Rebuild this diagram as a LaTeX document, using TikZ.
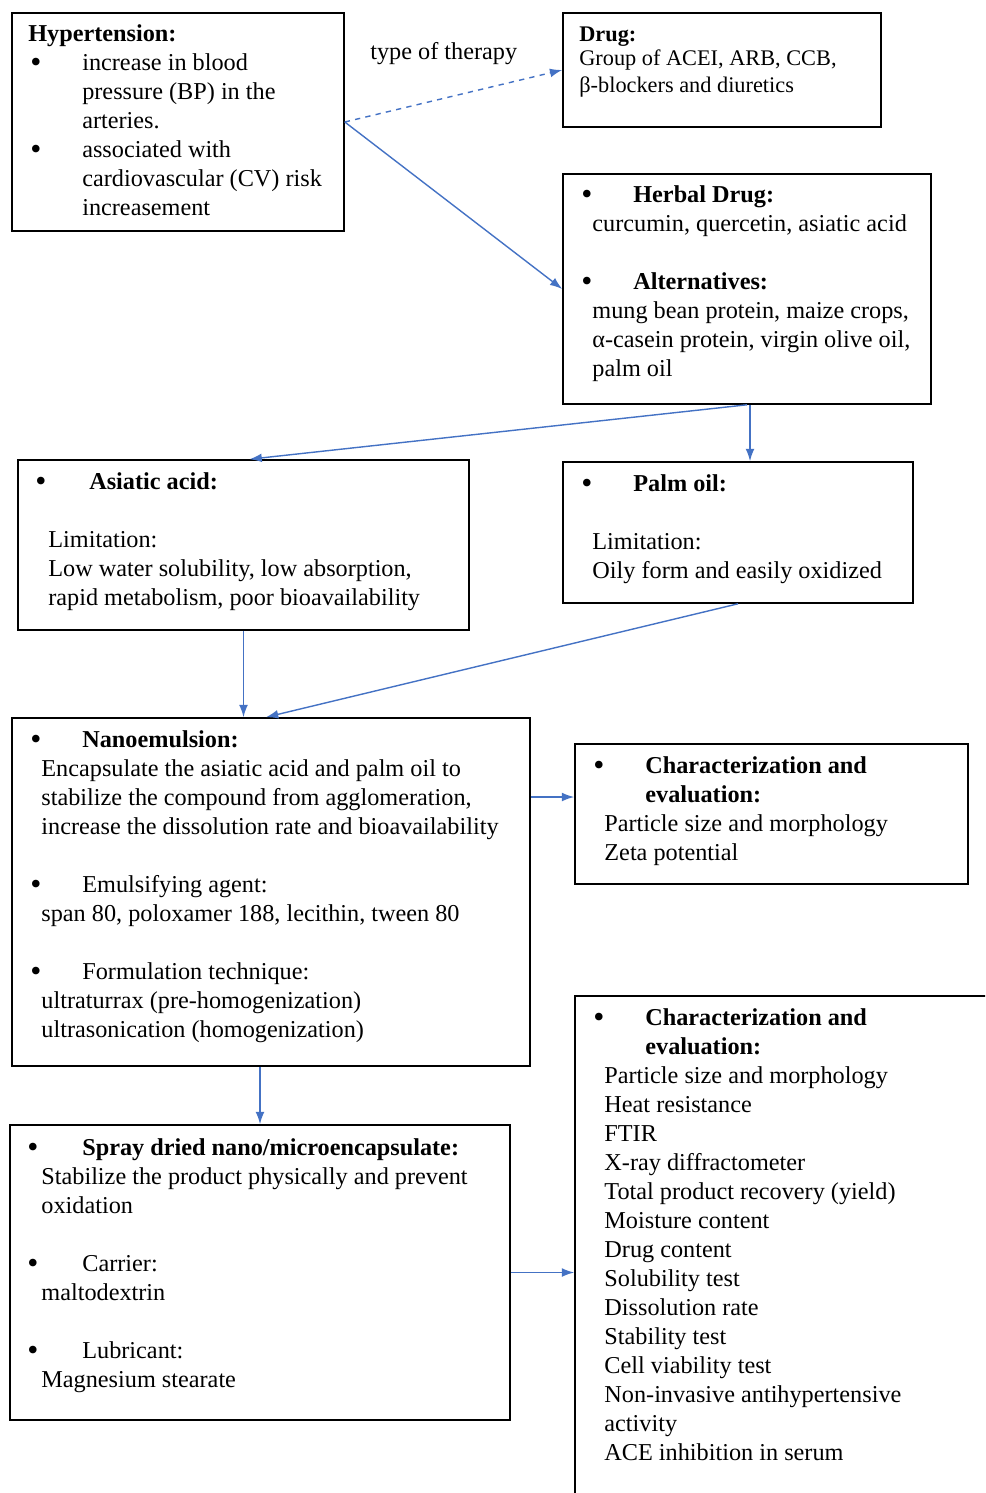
\documentclass[tikz,border=0pt]{standalone}
\usepackage{fontspec}
\setmainfont{Liberation Serif}
\usetikzlibrary{arrows.meta,fit}
\definecolor{arrowblue}{HTML}{4472C4}
\newcommand\bul{\raisebox{-1.2pt}{\fontsize{18}{18}\selectfont\textbullet}}
\newcommand\bi[2][29.6pt]{\makebox[#1][l]{\bul}#2}
\newcommand\hi{\hspace*{29.6pt}}
\newcommand\bd{\hspace*{6.3pt}}

\begin{document}
\begin{tikzpicture}[x=0.02cm,y=-0.02cm,
    box/.style={draw,line width=0.9pt,inner sep=0pt},
    txt/.style={anchor=north west,yshift=10pt,align=left,inner sep=0pt,
        font=\fontsize{13.8}{16.5}\selectfont,execute at begin node=\rule{0pt}{10pt}},
    arr/.style={draw=arrowblue,line width=0.8pt,-{Latex[length=7pt,width=5pt]}}]
    \useasboundingbox (0,0) rectangle (985,1493);
    \clip (0,0) rectangle (985,1493);

    \node[box,fit={(12,13) (344,231)}] (hyp) {};
    \node[box,fit={(563,13) (881,127)}] (drug) {};
    \node[box,fit={(563,174) (931,404)}] (herbal) {};
    \node[box,fit={(18,460) (469,630)}] (asiatic) {};
    \node[box,fit={(563,462) (913,603)}] (palm) {};
    \node[box,fit={(12,718) (530,1066)}] (nano) {};
    \node[box,fit={(575,744) (968,884)}] (charA) {};
    \node[box,fit={(10,1125) (510,1420)}] (spray) {};
    \node[box,fit={(575,996) (1010,1520)}] (charB) {};

    \node[txt] (hyptext) at (28,42) {\textbf{Hypertension:}\\
        \hspace*{1.1pt}\bi{increase in blood}\\
        \hspace*{1.1pt}\hi pressure (BP) in the\\
        \hspace*{1.1pt}\hi arteries.\\
        \hspace*{1.1pt}\bi{associated with}\\
        \hspace*{1.1pt}\hi cardiovascular (CV) risk\\
        \hspace*{1.1pt}\hi increasement};
    \node[txt,font=\fontsize{12.7}{16.5}\selectfont] (drugtext) at (579,44) {\textbf{Drug:}\\[-2.8pt]
        Group of ACEI, ARB, CCB,\\[-1.1pt]
        β-blockers and diuretics};
    \node[txt] (herbaltext) at (581,203) {\bi{\textbf{Herbal Drug:}}\\
        \bd curcumin, quercetin, asiatic acid\\[16.5pt]
        \bi{\textbf{Alternatives:}}\\
        \bd mung bean protein, maize crops,\\
        \bd α-casein protein, virgin olive oil,\\
        \bd palm oil};
    \node[txt] (asiatictext) at (35,490) {\bi[30.7pt]{\textbf{Asiatic acid:}}\\[16.5pt]
        \hspace*{7.4pt}Limitation:\\
        \hspace*{7.4pt}Low water solubility, low absorption,\\
        \hspace*{7.4pt}rapid metabolism, poor bioavailability};
    \node[txt] (palmtext) at (581,492) {\bi{\textbf{Palm oil:}}\\[16.5pt]
        \bd Limitation:\\
        \bd Oily form and easily oxidized};
    \node[txt] (nanotext) at (30,748) {\bi{\textbf{Nanoemulsion:}}\\
        \bd Encapsulate the asiatic acid and palm oil to\\
        \bd stabilize the compound from agglomeration,\\
        \bd increase the dissolution rate and bioavailability\\[16.5pt]
        \bi{Emulsifying agent:}\\
        \bd span 80, poloxamer 188, lecithin, tween 80\\[16.5pt]
        \bi{Formulation technique:}\\
        \bd ultraturrax (pre-homogenization)\\
        \bd ultrasonication (homogenization)};
    \node[txt] (charAtext) at (593,774) {\bi{\textbf{Characterization and}}\\
        \hi\textbf{evaluation:}\\
        \bd Particle size and morphology\\
        \bd Zeta potential};
    \node[txt] (spraytext) at (27,1156) {\bi[31.3pt]{\textbf{Spray dried nano/microencapsulate:}}\\
        \hspace*{8pt}Stabilize the product physically and prevent\\
        \hspace*{8pt}oxidation\\[16.5pt]
        \bi[31.3pt]{Carrier:}\\
        \hspace*{8pt}maltodextrin\\[16.5pt]
        \bi[31.3pt]{Lubricant:}\\
        \hspace*{8pt}Magnesium stearate};
    \node[txt] (charBtext) at (593,1026) {\bi{\textbf{Characterization and}}\\
        \hi\textbf{evaluation:}\\
        \bd Particle size and morphology\\
        \bd Heat resistance\\
        \bd FTIR\\
        \bd X-ray diffractometer\\
        \bd Total product recovery (yield)\\
        \bd Moisture content\\
        \bd Drug content\\
        \bd Solubility test\\
        \bd Dissolution rate\\
        \bd Stability test\\
        \bd Cell viability test\\
        \bd Non-invasive antihypertensive\\
        \bd activity\\
        \bd ACE inhibition in serum};

    \node[txt] (therapy) at (370,59) {type of therapy};

    \draw[arr,dashed] (hyp.east) -- (drug.west);
    \draw[arr] (hyp.east) -- (herbal.west);
    \draw[arr] (herbal.south) -- ([xshift=0.12cm]asiatic.north);
    \draw[arr] ([xshift=0.06cm]herbal.south) -- ([xshift=0.06cm]herbal.south |- palm.north);
    \draw[arr] (asiatic.south) -- (asiatic.south |- nano.north);
    \draw[arr] (palm.south) -- ([xshift=-0.1cm]nano.north);
    \coordinate (charAin) at ([yshift=0.34cm]charA.west);
    \draw[arr] (nano.east |- charAin) -- (charAin);
    \draw[arr] (spray.north |- nano.south) -- (spray.north);
    \draw[arr] (spray.east) -- (spray.east -| charB.west);
\end{tikzpicture}
\end{document}
